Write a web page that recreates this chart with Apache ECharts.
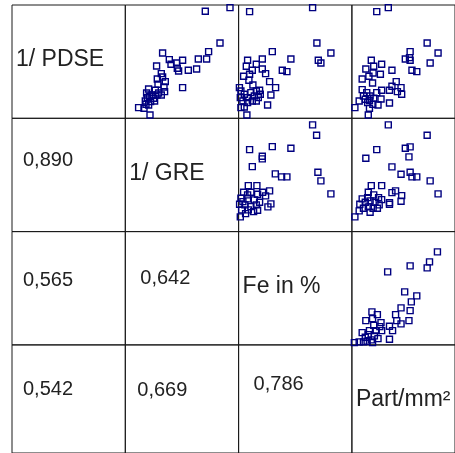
<!DOCTYPE html>
<html>
<head>
<meta charset="utf-8">
<style>
  html, body { margin: 0; padding: 0; background: #fff; }
  #chart { width: 455px; height: 453px; }
</style>
<script src="https://cdn.jsdelivr.net/npm/echarts/dist/echarts.min.js"></script>
</head>
<body>
<div id="chart"></div>
<script>
// Variables on the diagonal of the scatter-plot matrix
const variables = ['1/ PDSE', '1/ GRE', 'Fe in %', 'Part/mm²'];

// Correlation coefficients shown in the lower triangle (row, column, text)
const corrRows = [1, 2, 2, 3, 3, 3];
const corrCols = [0, 0, 1, 0, 1, 2];
const corrValues = ['0,890', '0,565', '0,642', '0,542', '0,669', '0,786'];

// Scaled observations for each upper-triangle panel: [x, y]
const pdseVsGre = [
  [80, 107], [104.7, 110.7], [94.7, 75.3], [83.3, 66.7], [81.3, 59.3], [73, 59.3],
  [71.3, 49.3], [63, 48], [57.3, 58], [53.3, 47.3], [51.3, 55.3], [45.7, 54],
  [44, 58.7], [37.3, 65.3], [31.3, 52.3], [36, 44.7], [37.3, 41.3], [40, 36.7],
  [32, 39.3], [32.7, 34], [38.7, 31.3], [57.3, 30.7], [23.3, 29.3], [30, 28],
  [39.3, 26.7], [36, 23.3], [26.7, 23.3], [22, 20.7], [28.3, 20], [20, 17.3],
  [25.3, 16.7], [13.3, 10.7], [18.7, 10], [23.3, 13.3], [24.7, 3.3], [21.3, 25.3],
  [31.7, 23.3], [24, 22], [29.3, 17.3], [33.3, 25.3], [20.7, 14], [52, 50]
];
const pdseVsFe = [
  [11, 106.7], [74, 110.7], [78.3, 75.3], [92.3, 65.3], [79.7, 58], [82.3, 55.3],
  [33.7, 66.7], [52.3, 59.3], [43.7, 48], [48.3, 46.7], [23.7, 59.3], [17.7, 54],
  [9, 58], [7.7, 52], [23.7, 49.3], [27, 44.7], [13.7, 48], [5, 42], [11, 44],
  [10.3, 38], [31, 36.7], [37, 30.7], [32.3, 23.3], [29, 13.3], [14.3, 33.3],
  [21, 28], [17.7, 17.3], [8.3, 3.3], [2.3, 10.7], [2.3, 27.3], [5.7, 24],
  [1.7, 20.7], [9, 20.7], [12.3, 25.7], [15.7, 22.3], [19.7, 20.7], [4.3, 17.3],
  [9, 15.7], [5.7, 11.3], [13.7, 17.3], [21.7, 24], [0.8, 30.7], [17.7, 27.3]
];
const pdseVsPart = [
  [27.3, 106.7], [40, 110.7], [82.7, 75.3], [94.7, 65.3], [86, 55.3], [64, 66.7],
  [58.7, 59.3], [64, 58], [63.3, 60.7], [66, 48], [71.3, 46.7], [44, 48],
  [21.3, 58], [32.7, 54], [24, 52], [15.3, 49.3], [31.3, 44], [23.3, 45.3],
  [18.7, 42], [11.3, 39.3], [22.7, 35.3], [48.7, 36.7], [44, 32], [54, 30.7],
  [50, 26.7], [54.7, 24], [41.3, 28], [32.7, 28], [41.3, 15.3], [28.7, 13.3],
  [32, 19.3], [3.3, 10.7], [8, 17.3], [11.3, 28.7], [18, 3.3], [19.3, 10],
  [16.3, 25.7], [20, 22.3], [14.7, 19], [24, 20], [27.3, 25.7], [17.3, 15.7],
  [23, 14], [12.7, 22.3], [19.3, 18]
];
const greVsFe = [
  [74, 106.7], [78, 96.3], [11, 82], [33.7, 85], [52.3, 83.3], [23.7, 75.3],
  [23.7, 72.7], [13.7, 65], [36.7, 57.7], [43, 54.7], [48.3, 54.7], [79.3, 59.3],
  [82.3, 50.7], [92.3, 37.7], [9.7, 46], [18.3, 46], [31, 40.7], [27, 35.7],
  [32.3, 27.7], [29.3, 24.7], [19, 21.3], [1.7, 14.7], [7, 18], [5, 39.3],
  [12.3, 39.3], [19, 37.3], [24, 39.3], [2.3, 33.3], [9, 32.7], [15.7, 31.7],
  [21, 29.3], [1, 27.3], [6.3, 26.7], [12.3, 25], [17.7, 26.7], [3, 21.7],
  [9.7, 21.7], [15, 20], [4.3, 30], [9, 36.7]
];
const greVsPart = [
  [40, 106.7], [82.7, 96.3], [27.3, 82], [15.3, 73.3], [58.7, 83.3], [64, 84.7],
  [62.7, 74.7], [44, 64.7], [54, 57.3], [64, 59.3], [66, 54.7], [71.3, 54.7],
  [86, 50.7], [94.7, 37.7], [21.3, 46], [32.7, 46], [48, 40.7], [44, 39],
  [54.7, 36], [54, 30.3], [41.3, 29], [41.3, 27.3], [18, 39.3], [3.3, 14.7],
  [8, 20.7], [11.3, 32.7], [17.3, 34], [24, 36.7], [29.3, 34], [32.7, 32],
  [8.7, 27.3], [14.7, 29.3], [20, 30.7], [25.3, 29.3], [30, 26.7], [12.7, 23.3],
  [18, 24.7], [23.3, 23.3], [20, 19.3], [28, 23.3]
];
const feVsPart = [
  [94, 93], [85.3, 83], [82.7, 77], [64, 79], [39.3, 73], [58, 53],
  [71.3, 49], [65.3, 43], [54, 37], [64, 34.3], [48, 30.3], [62.7, 24.3],
  [49.3, 24.3], [54, 21], [41.3, 18.7], [44.7, 14.3], [41.3, 5.7], [22, 33],
  [28, 30.3], [15.3, 24.3], [22.7, 26.3], [32, 22.3], [24, 19.7], [32.7, 14.3],
  [11.3, 12.3], [28.7, 6.3], [2.7, 2.3], [8, 3], [14.7, 7.7], [18, 10.3],
  [21.3, 5], [24.7, 9], [16.7, 3.7], [12.7, 3], [19.3, 14.3], [26.7, 14.3],
  [22.7, 2.3], [30.7, 18.3]
];

// Panels above the diagonal: row, column, observations
const panels = [
  { row: 0, col: 1, data: pdseVsGre },
  { row: 0, col: 2, data: pdseVsFe },
  { row: 0, col: 3, data: pdseVsPart },
  { row: 1, col: 2, data: greVsFe },
  { row: 1, col: 3, data: greVsPart },
  { row: 2, col: 3, data: feVsPart }
];

// Matrix layout
const ORIGIN_X = 12, ORIGIN_Y = 5, CELL = 113.3;
const AXIS_MAX = 113.3;
const MARK_COLOR = '#000080';
const TEXT_COLOR = '#222';
const FONT = '"Liberation Sans", Arial, sans-serif';

const grids = [], xAxes = [], yAxes = [], series = [];
for (let r = 0; r < 4; r++) {
  for (let c = 0; c < 4; c++) {
    grids.push({
      left: ORIGIN_X + c * CELL, top: ORIGIN_Y + r * CELL,
      width: CELL, height: CELL,
      show: true, borderColor: '#1a1a1a', borderWidth: 1,
      backgroundColor: 'transparent'
    });
  }
}
panels.forEach((p, i) => {
  const gi = p.row * 4 + p.col;
  xAxes.push({ gridIndex: gi, type: 'value', min: 0, max: AXIS_MAX, show: false });
  yAxes.push({ gridIndex: gi, type: 'value', min: 0, max: AXIS_MAX, show: false });
  series.push({
    type: 'scatter', xAxisIndex: i, yAxisIndex: i,
    data: p.data, symbol: 'rect', symbolSize: 6,
    itemStyle: { color: 'rgba(0,0,0,0)', borderColor: MARK_COLOR, borderWidth: 1.4, opacity: 1 },
    emphasis: { disabled: true }, silent: true, animation: false
  });
});

const graphics = [];
variables.forEach((name, k) => {
  graphics.push({
    type: 'text',
    x: ORIGIN_X + k * CELL + 4,
    y: ORIGIN_Y + k * CELL + 55,
    style: { text: name, font: '23px ' + FONT, fill: TEXT_COLOR, verticalAlign: 'middle' }
  });
});
// small per-label nudges within the lower cells
const corrDx = [11, 11, 15, 11, 12, 15];
const corrDy = [42, 49, 47, 45, 46, 40];
corrValues.forEach((txt, k) => {
  graphics.push({
    type: 'text',
    x: ORIGIN_X + corrCols[k] * CELL + corrDx[k],
    y: ORIGIN_Y + corrRows[k] * CELL + corrDy[k],
    style: { text: txt, font: '20px ' + FONT, fill: TEXT_COLOR, verticalAlign: 'middle' }
  });
});

const chart = echarts.init(document.getElementById('chart'), null, { renderer: 'canvas' });
chart.setOption({
  animation: false,
  backgroundColor: '#fff',
  grid: grids,
  xAxis: xAxes,
  yAxis: yAxes,
  series: series,
  graphic: graphics
});
</script>
</body>
</html>
